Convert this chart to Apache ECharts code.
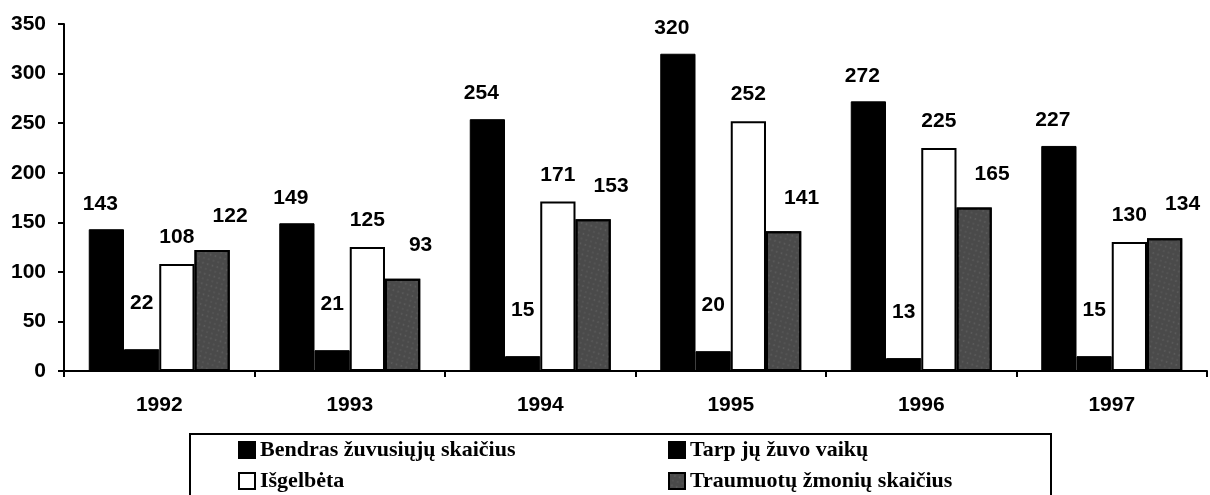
<!DOCTYPE html>
<html><head><meta charset="utf-8">
<script src="https://cdn.jsdelivr.net/npm/echarts@6/dist/echarts.min.js"></script>
<style>html,body{margin:0;padding:0;background:#fff}#c{width:1210px;height:495px}</style>
</head><body><div id="c"></div>
<script>
const categories = ['1992','1993','1994','1995','1996','1997'];
const totalDeaths = [143,149,254,320,272,227];
const childDeaths = [22,21,15,20,13,15];
const rescued = [108,125,171,252,225,130];
const injured = [122,93,153,141,165,134];
const yTicks = {min:0, max:350, interval:50};
const names = ['Bendras žuvusiųjų skaičius','Tarp jų žuvo vaikų','Išgelbėta','Traumuotų žmonių skaičius'];

const labelFont = {fontFamily:'Liberation Sans, Arial', fontWeight:'bold', fontSize:21, color:'#000'};
function lbl(dist, off){ return Object.assign({show:true, position:'top', distance:dist, offset:off||[0,0]}, labelFont); }
const legendText = {fontFamily:'Liberation Serif, Times New Roman', fontWeight:'bold', fontSize:22, color:'#000'};
function leg(name, left, top){
  return {data:[name], left:left, top:top, icon:'rect', itemWidth:16, itemHeight:16, itemGap:4, padding:0, textStyle:Object.assign({padding:[0,0,0,0]}, legendText)};
}

const chart = echarts.init(document.getElementById('c'));
chart.setOption({
  animation:false,
  backgroundColor:'#fff',
  grid:{left:64, right:3, top:24, bottom:124},
  graphic:[{type:'rect', shape:{x:190, y:434, width:861, height:70}, style:{fill:'#fff', stroke:'#000', lineWidth:2}, z:-1}],
  legend:[
    leg(names[0], 238, 439),
    leg(names[2], 238, 470),
    leg(names[1], 668, 439),
    leg(names[3], 668, 470)
  ],
  xAxis:{type:'category', data:categories,
    axisLine:{lineStyle:{color:'#000', width:2}},
    axisTick:{show:true, length:6, lineStyle:{color:'#000', width:2}},
    axisLabel:Object.assign({margin:24}, labelFont)},
  yAxis:{type:'value', min:yTicks.min, max:yTicks.max, interval:yTicks.interval,
    splitLine:{show:false},
    axisLine:{show:true, lineStyle:{color:'#000', width:2}},
    axisTick:{show:true, length:6, lineStyle:{color:'#000', width:2}},
    axisLabel:Object.assign({margin:18}, labelFont)},
  series:[
    {name:names[0], type:'bar', data:totalDeaths, barGap:'0%', barCategoryGap:'26%',
     itemStyle:{color:'#000', borderColor:'#000', borderWidth:1}, label:lbl(15,[-6,0])},
    {name:names[1], type:'bar', data:childDeaths,
     itemStyle:{color:'#000', borderColor:'#000', borderWidth:1}, label:lbl(35)},
    {name:names[2], type:'bar', data:rescued,
     itemStyle:{color:'#fff', borderColor:'#000', borderWidth:2}, label:lbl(16)},
    {name:names[3], type:'bar', data:injured,
     itemStyle:{color:'#4a4a4a', borderColor:'#000', borderWidth:2,
       decal:{symbol:'rect', symbolSize:0.5, dashArrayX:[[2,3],[3,2]], dashArrayY:[2,3], rotation:0.3, color:'rgba(150,150,150,0.45)'}},
     label:lbl(23,[18,0])}
  ]
});
</script></body></html>
